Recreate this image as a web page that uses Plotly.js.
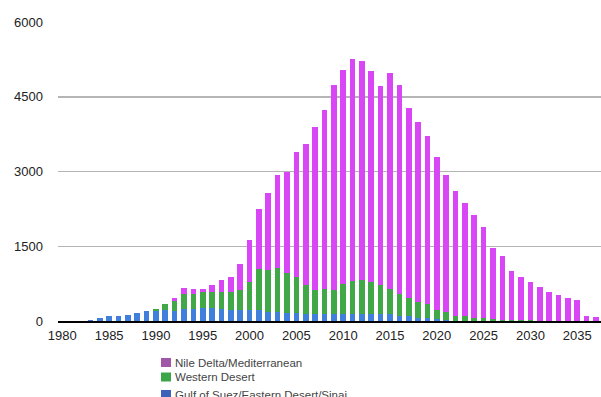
<!DOCTYPE html>
<html>
<head>
<meta charset="utf-8">
<script src="https://cdn.plot.ly/plotly-3.0.1.min.js"></script>
<style>html,body{margin:0;padding:0;background:#fff;}#chart{width:601px;height:397px;}</style>
</head>
<body>
<div id="chart"></div>
<script>
const years = [1983,1984,1985,1986,1987,1988,1989,1990,1991,1992,1993,1994,1995,1996,1997,1998,1999,2000,
  2001,2002,2003,2004,2005,2006,2007,2008,2009,2010,2011,2012,2013,2014,2015,2016,2017,2018,2019,2020,
  2021,2022,2023,2024,2025,2026,2027,2028,2029,2030,2031,2032,2033,2034,2035,2036,2037];
const gulfSuez = [25,70,100,100,130,170,210,210,225,210,250,250,265,265,250,230,215,215,
  215,190,190,170,170,150,150,150,150,150,150,150,150,135,135,110,95,70,55,45,
  15,10,5,0,0,0,0,0,0,0,0,0,0,0,0,0,0];
const westernDesert = [0,0,0,0,0,0,0,40,125,200,290,295,315,315,330,360,415,575,
  820,830,870,785,705,565,465,485,465,585,645,670,630,580,500,440,375,320,280,185,
  160,100,90,70,55,35,30,20,15,12,10,8,5,3,2,0,0];
const nileDelta = [0,0,0,0,0,0,0,0,0,60,130,105,70,150,250,300,520,845,
  1205,1540,1860,2045,2510,2830,3270,3590,4115,4295,4460,4395,4235,3995,4340,4180,3800,3600,3375,3055,
  2750,2490,2265,2050,1825,1425,1270,980,865,768,670,572,515,457,418,95,80];
const seriesNames = ["Gulf of Suez/Eastern Desert/Sinai", "Western Desert", "Nile Delta/Mediterranean"];
const barColors = ["#4080DC", "#41A848", "#D946F5"];
const legendColors = ["#3B62B8", "#3AA648", "#A057A8"];
const yTicks = [0, 1500, 3000, 4500, 6000];
const xTicks = [1980,1985,1990,1995,2000,2005,2010,2015,2020,2025,2030,2035];

const M = {l:58, r:0, t:22, b:76};
const W = 601, H = 397;
const pw = W - M.l - M.r, ph = H - M.t - M.b;
const px2x = p => (p - M.l) / pw;
const px2y = p => (H - M.b - p) / ph;

const seriesVals = [gulfSuez, westernDesert, nileDelta];
const traces = seriesVals.map((v, i) => ({
  type: 'bar', x: years, y: v, name: seriesNames[i],
  marker: {color: barColors[i], line: {width: 0}},
  width: 0.6, showlegend: false, hoverinfo: 'skip'
}));

// custom legend (top to bottom: Nile, Western, Gulf)
const legendOrder = [2, 1, 0];
const rowCenters = [362.5, 377, 394.5];
const shapes = [];
const annotations = [];
legendOrder.forEach((si, r) => {
  const cy = rowCenters[r];
  shapes.push({type:'rect', xref:'paper', yref:'paper',
    x0: px2x(161), x1: px2x(171), y0: px2y(cy + 4.5), y1: px2y(cy - 4.5),
    fillcolor: legendColors[si], line: {width: 0}});
  annotations.push({xref:'paper', yref:'paper', x: px2x(173), y: px2y(cy),
    xanchor:'left', yanchor:'middle', showarrow:false, text: seriesNames[si],
    font: {family:'Liberation Sans, Arial, sans-serif', size: 11.5, color:'#444'}});
});

const layout = {
  width: W, height: H, margin: M,
  paper_bgcolor: '#fff', plot_bgcolor: '#fff',
  barmode: 'stack',
  font: {family: 'Liberation Sans, Arial, sans-serif', size: 13, color: '#222'},
  xaxis: {range: [1979.54, 2037.54], tickvals: xTicks, ticktext: xTicks.map(String),
    showgrid: false, zeroline: false, showline: true, linecolor: '#000', linewidth: 2,
    ticks: '', ticklabelstandoff: 1, fixedrange: true},
  yaxis: {range: [0, 6000], tickvals: yTicks, ticktext: yTicks.map(String),
    showgrid: true, gridcolor: '#b5b5b5', gridwidth: 1.5, zeroline: false,
    ticks: '', ticklabelstandoff: 14, fixedrange: true},
  shapes: shapes, annotations: annotations
};
Plotly.newPlot('chart', traces, layout, {displayModeBar: false, staticPlot: true});
</script>
</body>
</html>
